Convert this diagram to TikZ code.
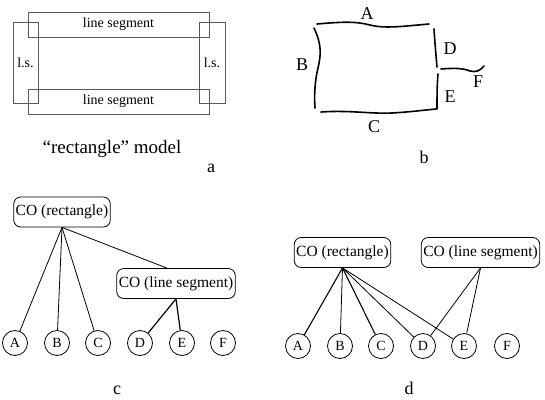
\documentclass[tikz,border=0pt]{standalone}
\usepackage{fontspec}
\setmainfont{Liberation Serif}

\tikzset{
	segbox/.style={shape=rectangle,draw=black!65,line width=0.9pt,inner sep=0pt,font=\fontsize{14}{16}\selectfont},
	co/.style={shape=rectangle,rounded corners=7pt,draw=black,line width=0.8pt,inner sep=2pt,minimum height=30pt,font=\fontsize{15.5}{17}\selectfont},
	leaf/.style={shape=circle,draw=black,line width=0.8pt,inner sep=0pt,minimum size=25pt,font=\fontsize{14}{16}\selectfont},
	tag/.style={font=\fontsize{18}{20}\selectfont},
	stroke/.style={line width=1.6pt,line cap=round}
}

\begin{document}
\begin{tikzpicture}[x=1pt,y=-1pt]
	\useasboundingbox (0,0) rectangle (545,399);

	% a: rectangle model
	\node[segbox,minimum width=181pt,minimum height=25pt] (segTop) at (118.5,24.5) {line segment};
	\node[segbox,minimum width=181pt,minimum height=25pt] (segBot) at (118.5,101.5) {line segment};
	\node[segbox,minimum width=25pt,minimum height=81pt] (segLeft) at (25.5,62.5) {l.s.};
	\node[segbox,minimum width=26pt,minimum height=81pt] (segRight) at (212,62.5) {l.s.};
	\node[tag,font=\fontsize{19}{21}\selectfont] (modelA) at (112,149) {“rectangle” model};
	\node[tag] (tagA) at (211,168) {a};

	% b: fragments
	\draw[stroke] (317,24) .. controls (340,22) and (355,21) .. (370,25) .. controls (385,29) and (405,26) .. (429,24);
	\draw[stroke] (314,28) .. controls (322,45) and (321,55) .. (318,68) .. controls (315,80) and (314,95) .. (315,108);
	\draw[stroke] (321,112) .. controls (350,110) and (370,114) .. (392,113) .. controls (410,112) and (425,110) .. (436,109);
	\draw[stroke] (434,29) .. controls (435,45) and (436,55) .. (437,67);
	\draw[stroke] (438,74) .. controls (437,85) and (437,98) .. (437,109);
	\draw[stroke] (441,69) .. controls (455,68) and (462,68) .. (470,71) .. controls (476,73) and (481,70) .. (484,66);
	\node[tag] (fragA) at (367,14) {A};
	\node[tag] (fragB) at (302,65) {B};
	\node[tag] (fragC) at (374,127) {C};
	\node[tag] (fragD) at (450,49) {D};
	\node[tag] (fragE) at (450,97) {E};
	\node[tag] (fragF) at (478,82) {F};
	\node[tag] (tagB) at (424,157) {b};

	% c: nested grouping
	\node[co] (rectC) at (62,212) {CO (rectangle)};
	\node[co] (lineC) at (176,283.5) {CO (line segment)};
	\node[leaf] (cA) at (15,343) {A};
	\node[leaf] (cB) at (57,343) {B};
	\node[leaf] (cC) at (98,343) {C};
	\node[leaf] (cD) at (140,343) {D};
	\node[leaf] (cE) at (182,343) {E};
	\node[leaf] (cF) at (223,343) {F};
	\node[tag,anchor=base] (tagC) at (117,394) {c};

	\path[line width=0.8pt](rectC.south) edge (cA);
	\path[line width=0.8pt](rectC.south) edge (cB);
	\path[line width=0.8pt](rectC.south) edge (cC);
	\path[line width=0.8pt](rectC.south) edge ([xshift=-9pt]lineC.north);
	\path[line width=1.2pt](lineC.south) edge (cD);
	\path[line width=1.2pt](lineC.south) edge (cE);

	% d: shared grouping
	\node[co] (rectD) at (342.5,252.5) {CO (rectangle)};
	\node[co] (lineD) at (480.5,252.5) {CO (line segment)};
	\node[leaf] (dA) at (298,346) {A};
	\node[leaf] (dB) at (340,346) {B};
	\node[leaf] (dC) at (381,346) {C};
	\node[leaf] (dD) at (423,346) {D};
	\node[leaf] (dE) at (464,346) {E};
	\node[leaf] (dF) at (507,346) {F};
	\node[tag,anchor=base,inner sep=0pt] (tagD) at (409,394) {d};

	\path[line width=1.1pt](rectD.south) edge (dA);
	\path[line width=0.8pt](rectD.south) edge (dB);
	\path[line width=1.1pt](rectD.south) edge (dC);
	\path[line width=0.8pt](rectD.south) edge (dD);
	\path[line width=0.8pt](rectD.south) edge (dE);
	\path[line width=0.8pt](lineD.south) edge (dD);
	\path[line width=0.8pt](lineD.south) edge (dE);
\end{tikzpicture}
\end{document}
